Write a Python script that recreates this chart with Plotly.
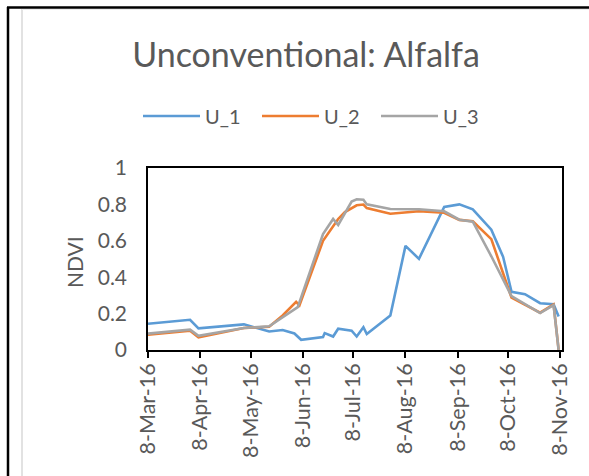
import plotly.graph_objects as go

# ---- data ----
u1_dates = ["2016-03-08", "2016-04-02", "2016-04-07", "2016-05-04", "2016-05-19", "2016-05-27",
            "2016-06-03", "2016-06-07", "2016-06-20", "2016-06-21", "2016-06-26", "2016-06-29",
            "2016-07-07", "2016-07-10", "2016-07-14", "2016-07-16", "2016-07-30", "2016-08-08",
            "2016-08-16", "2016-08-31", "2016-09-09", "2016-09-17", "2016-09-28", "2016-10-05",
            "2016-10-10", "2016-10-18", "2016-10-27", "2016-11-04", "2016-11-07"]
u1_ndvi = [0.144, 0.166, 0.119, 0.141, 0.102, 0.110,
           0.091, 0.056, 0.071, 0.093, 0.074, 0.117,
           0.106, 0.074, 0.125, 0.088, 0.190, 0.572,
           0.501, 0.786, 0.800, 0.773, 0.661, 0.512,
           0.320, 0.307, 0.257, 0.251, 0.184]

u2_dates = ["2016-03-08", "2016-04-02", "2016-04-07", "2016-05-04", "2016-05-19", "2016-05-27",
            "2016-06-04", "2016-06-06", "2016-06-20", "2016-06-26", "2016-06-29", "2016-07-03",
            "2016-07-10", "2016-07-14", "2016-07-16", "2016-07-30", "2016-08-16", "2016-08-31",
            "2016-09-09", "2016-09-17", "2016-09-28", "2016-10-10", "2016-10-27", "2016-11-04",
            "2016-11-07"]
u2_ndvi = [0.084, 0.106, 0.069, 0.121, 0.128, 0.190,
           0.265, 0.245, 0.600, 0.685, 0.720, 0.758,
           0.795, 0.799, 0.780, 0.749, 0.762, 0.754,
           0.715, 0.707, 0.609, 0.288, 0.205, 0.251,
           0.000]

u3_dates = ["2016-03-08", "2016-04-02", "2016-04-07", "2016-05-04", "2016-05-19", "2016-06-05",
            "2016-06-20", "2016-06-26", "2016-06-29", "2016-07-07", "2016-07-10", "2016-07-14",
            "2016-07-16", "2016-07-30", "2016-08-16", "2016-08-31", "2016-09-09", "2016-09-17",
            "2016-09-28", "2016-10-10", "2016-10-27", "2016-11-04", "2016-11-07"]
u3_ndvi = [0.090, 0.112, 0.078, 0.121, 0.130, 0.236,
           0.637, 0.720, 0.687, 0.816, 0.828, 0.826,
           0.800, 0.775, 0.773, 0.762, 0.716, 0.705,
           0.515, 0.296, 0.203, 0.246, 0.000]

x_tick_vals = ["2016-03-08", "2016-04-08", "2016-05-08", "2016-06-08", "2016-07-08",
               "2016-08-08", "2016-09-08", "2016-10-08", "2016-11-08"]
x_tick_text = ["8-Mar-16", "8-Apr-16", "8-May-16", "8-Jun-16", "8-Jul-16",
               "8-Aug-16", "8-Sep-16", "8-Oct-16", "8-Nov-16"]
y_tick_vals = [0, 0.2, 0.4, 0.6, 0.8, 1]
y_tick_text = ["0", "0.2", "0.4", "0.6", "0.8", "1"]

series_names = ["U_1", "U_2", "U_3"]
colors = ["#5B9BD5", "#ED7D31", "#A5A5A5"]

FONT = "Lato"
TXT = "#595959"

fig = go.Figure()
for name, xs, ys, c in zip(series_names, [u1_dates, u2_dates, u3_dates],
                           [u1_ndvi, u2_ndvi, u3_ndvi], colors):
    fig.add_trace(go.Scatter(x=xs, y=ys, mode="lines", name=name,
                             line=dict(color=c, width=2.6)))

W, H = 589, 476
L, R, T, B = 148, 27, 168, 126
pw, ph = W - L - R, H - T - B


def px2paper_x(px):
    return (px - L) / pw


def px2paper_y(py):
    return (H - B - py) / ph


fig.update_layout(
    width=W, height=H,
    margin=dict(l=L, r=R, t=T, b=B, autoexpand=False),
    paper_bgcolor="white", plot_bgcolor="white",
    font=dict(family=FONT, color=TXT, size=20),
    title=dict(text="Unconventional: Alfalfa", x=306 / W, xanchor="center",
               y=1 - 55 / H, yanchor="middle", yref="container", xref="container",
               font=dict(family=FONT, size=34, color=TXT)),
    showlegend=True,
    legend=dict(orientation="h", x=138 / W, xanchor="left", xref="container",
                y=1 - 116 / H, yref="container", yanchor="middle",
                font=dict(family=FONT, size=20, color=TXT),
                itemwidth=57, entrywidth=47, entrywidthmode="pixels",
                bgcolor="rgba(0,0,0,0)"),
    xaxis=dict(type="date", range=["2016-03-08", "2016-11-09"],
               tickvals=x_tick_vals, ticktext=x_tick_text, tickangle=-90,
               ticks="outside", ticklen=6, tickwidth=1.5, tickcolor="black",
               showline=True, linecolor="black", linewidth=1.5, mirror=True,
               showgrid=False, zeroline=False, ticklabelstandoff=-3,
               tickfont=dict(family=FONT, size=21.5, color=TXT), automargin=False),
    yaxis=dict(range=[0, 1], tickvals=y_tick_vals, ticktext=y_tick_text,
               ticks="", showline=True, linecolor="black", linewidth=1.5, mirror=True,
               showgrid=False, zeroline=False, ticklabelstandoff=15,
               tickfont=dict(family=FONT, size=21, color=TXT), automargin=False),
    annotations=[dict(text="NDVI", textangle=-90, xref="paper", yref="paper",
                      x=px2paper_x(74), y=px2paper_y(262), xanchor="center", yanchor="middle",
                      showarrow=False, font=dict(family=FONT, size=21, color=TXT))],
    shapes=[
        dict(type="line", xref="paper", yref="paper", x0=px2paper_x(8), x1=px2paper_x(8),
             y0=px2paper_y(7), y1=px2paper_y(H + 5), line=dict(color="black", width=2.5)),
        dict(type="line", xref="paper", yref="paper", x0=px2paper_x(7), x1=px2paper_x(W + 5),
             y0=px2paper_y(7.5), y1=px2paper_y(7.5), line=dict(color="black", width=2.5)),
        dict(type="line", xref="paper", yref="paper", x0=px2paper_x(22), x1=px2paper_x(22),
             y0=px2paper_y(9), y1=px2paper_y(H + 5), line=dict(color="#D9D9D9", width=1.5)),
        dict(type="line", xref="paper", yref="paper", x0=px2paper_x(22), x1=px2paper_x(W + 5),
             y0=px2paper_y(9.5), y1=px2paper_y(9.5), line=dict(color="#EDEDED", width=1)),
    ],
)

fig.write_html("out.html", config={"displayModeBar": False},
               post_script="document.body.style.margin='0';")
